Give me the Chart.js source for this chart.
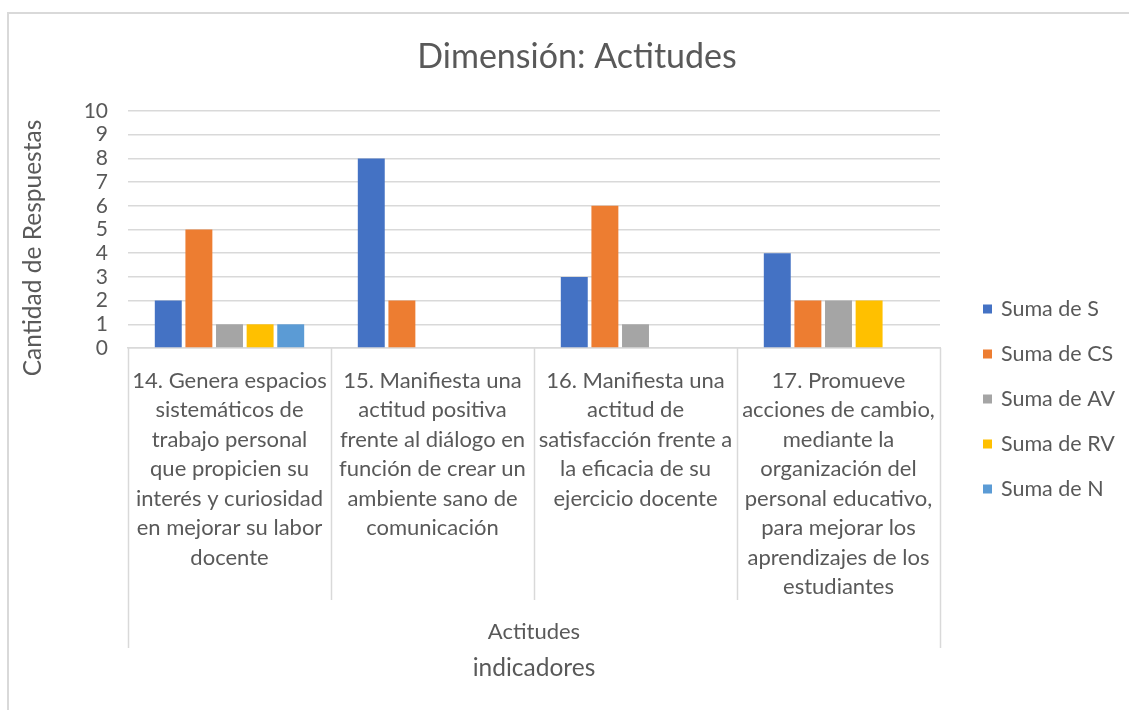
<!DOCTYPE html>
<html>
<head>
<meta charset="utf-8">
<script src="https://cdn.jsdelivr.net/npm/chart.js@4"></script>
<style>
  body { margin: 0; background: #fff; }
  canvas { display: block; }
</style>
</head>
<body>
<canvas id="grafico" width="1129" height="710"></canvas>
<script>
const titulo = "Dimensión: Actitudes";
const tituloY = "Cantidad de Respuestas";
const tituloX = "indicadores";
const grupo = "Actitudes";

// categorias (ya partidas en lineas como en la hoja)
const categorias = [
    ["14. Genera espacios", "sistemáticos de", "trabajo personal", "que propicien su", "interés y curiosidad", "en mejorar su labor", "docente"],
    ["15. Manifiesta una", "actitud positiva", "frente al diálogo en", "función de crear un", "ambiente sano de", "comunicación"],
    ["16. Manifiesta una", "actitud de", "satisfacción frente a", "la eficacia de su", "ejercicio docente"],
    ["17. Promueve", "acciones de cambio,", "mediante la", "organización del", "personal educativo,", "para mejorar los", "aprendizajes de los", "estudiantes"]
];

const series = ["Suma de S", "Suma de CS", "Suma de AV", "Suma de RV", "Suma de N"];
const colores = ["#4472C4", "#ED7D31", "#A5A5A5", "#FFC000", "#5B9BD5"];

// null = celda vacia en la tabla dinamica
const sumaS  = [2, 8, 3, 4];
const sumaCS = [5, 2, 6, 2];
const sumaAV = [1, null, 1, 2];
const sumaRV = [1, null, null, 2];
const sumaN  = [1, null, null, null];

const ticksY = [0, 10, 1]; // min, max, paso

const FUENTE = "Lato, 'Open Sans', sans-serif";
const GRIS = "#595959";
const LINEA = "#d9d9d9";

const valores = [sumaS, sumaCS, sumaAV, sumaRV, sumaN];

// dibuja marco, titulo, separadores de categoria, titulo Y, grupo y leyenda
const extras = {
    id: "extras",
    afterDraw(chart) {
        const ctx = chart.ctx;
        const area = chart.chartArea;
        const x = chart.scales.x;
        ctx.save();

        // marco del grafico
        ctx.strokeStyle = LINEA;
        ctx.lineWidth = 2;
        ctx.beginPath();
        ctx.moveTo(8, 710);
        ctx.lineTo(8, 13);
        ctx.lineTo(1129, 13);
        ctx.stroke();

        // separadores bajo el eje
        ctx.lineWidth = 1.5;
        const n = categorias.length;
        for (let i = 0; i <= n; i++) {
            const px = Math.round(x.getPixelForValue(i - 0.5)) + 0.5;
            const fin = (i === 0 || i === n) ? 648 : 600;
            ctx.beginPath();
            ctx.moveTo(px, area.bottom);
            ctx.lineTo(px, fin);
            ctx.stroke();
        }

        ctx.fillStyle = GRIS;
        ctx.textAlign = "center";
        ctx.textBaseline = "middle";

        // titulo (centrado en el marco completo, no en el area)
        ctx.font = "34px " + FUENTE;
        ctx.fillText(titulo, 577, 57);

        ctx.font = "22px " + FUENTE;
        ctx.fillText(grupo, (area.left + area.right) / 2, 632);

        // titulo eje Y
        ctx.save();
        ctx.translate(33, 248);
        ctx.rotate(-Math.PI / 2);
        ctx.font = "24.5px " + FUENTE;
        ctx.fillText(tituloY, 0, 0);
        ctx.restore();

        // leyenda
        ctx.textAlign = "left";
        ctx.font = "21.5px " + FUENTE;
        chart.data.datasets.forEach((ds, i) => {
            const cy = 309 + i * 45;
            ctx.fillStyle = ds.backgroundColor;
            ctx.fillRect(983, cy - 4.5, 9, 9);
            ctx.fillStyle = GRIS;
            ctx.fillText(ds.label, 1001, cy);
        });

        ctx.restore();
    }
};

new Chart(document.getElementById("grafico"), {
    type: "bar",
    data: {
        labels: categorias,
        datasets: series.map((nombre, i) => ({
            label: nombre,
            data: valores[i],
            backgroundColor: colores[i],
            borderWidth: 0,
            categoryPercentage: 0.754,
            barPercentage: 0.88
        }))
    },
    options: {
        responsive: false,
        animation: false,
        devicePixelRatio: 1,
        layout: { padding: { left: 0, right: 189, top: 111, bottom: 0 } },
        plugins: {
            legend: { display: false },
            tooltip: { enabled: false },
            title: { display: false }
        },
        scales: {
            x: {
                grid: { display: false },
                border: { color: LINEA, width: 1.5 },
                ticks: {
                    color: GRIS,
                    font: { family: FUENTE, size: 22, lineHeight: 1.34 },
                    maxRotation: 0,
                    autoSkip: false,
                    padding: 10
                },
                title: {
                    display: true,
                    text: tituloX,
                    color: GRIS,
                    font: { family: FUENTE, size: 24.5 },
                    padding: { top: 0, bottom: 27 }
                },
                afterFit(s) { s.height = 362; }
            },
            y: {
                min: ticksY[0],
                max: ticksY[1],
                ticks: {
                    stepSize: ticksY[2],
                    autoSkip: false,
                    color: GRIS,
                    font: { family: FUENTE, size: 21 },
                    padding: 20
                },
                grid: { color: LINEA, lineWidth: 1.5, drawTicks: false },
                border: { display: false },
                afterFit(s) { s.width = 128; }
            }
        }
    },
    plugins: [extras]
});
</script>
</body>
</html>
